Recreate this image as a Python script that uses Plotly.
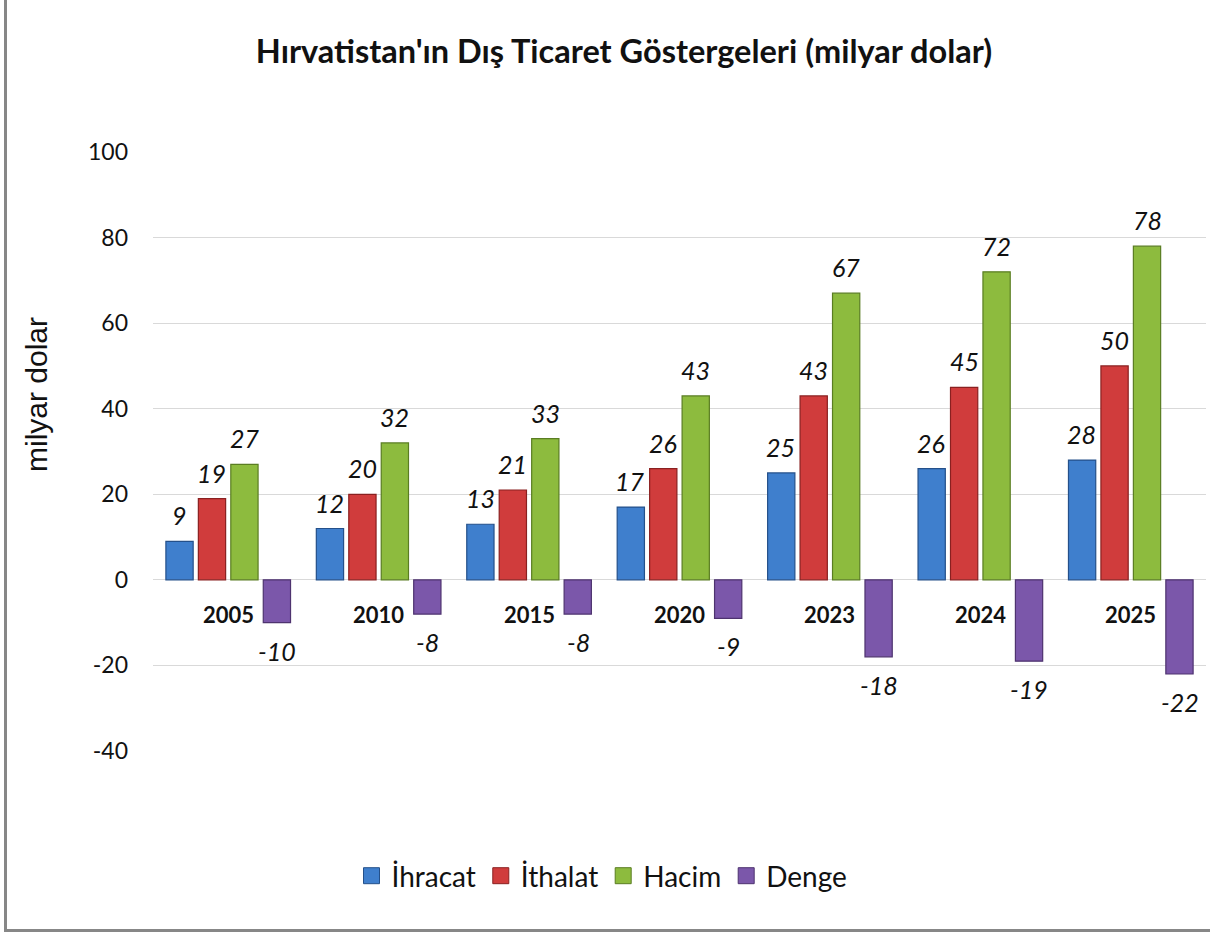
import plotly.graph_objects as go

years = ["2005", "2010", "2015", "2020", "2023", "2024", "2025"]
ihracat = [9, 12, 13, 17, 25, 26, 28]
ithalat = [19, 20, 21, 26, 43, 45, 50]
hacim = [27, 32, 33, 43, 67, 72, 78]
denge = [-10, -8, -8, -9, -18, -19, -22]
y_ticks = [-40, -20, 0, 20, 40, 60, 80, 100]
y_tick_labels = ["-40", "-20", "0", "20", "40", "60", "80", "100"]

series = [
    ("İhracat", ihracat, "#3f7fcd", "#24508a"),
    ("İthalat", ithalat, "#d03c3c", "#8a2020"),
    ("Hacim", hacim, "#8dbb3e", "#5a7d22"),
    ("Denge", denge, "#7b57aa", "#4e336f"),
]

FONT = "Lato"
W, H = 1210, 933
L, R, T, B = 153, 4, 152, 182
pw = W - L - R
ph = H - T - B


def ypaper(py):
    return (H - B - py) / ph


def xpaper(px):
    return (px - L) / pw


fig = go.Figure()
for i, (name, vals, col, line) in enumerate(series):
    fig.add_trace(go.Bar(
        x=years, y=vals, name=name, offsetgroup=str(i), showlegend=False,
        legendgroup=name, hoverinfo="skip",
        marker=dict(color=col, line=dict(color=line, width=1.2)),
    ))
# legend entries with larger square symbols
for i, (name, vals, col, line) in enumerate(series):
    fig.add_trace(go.Scatter(
        x=[None], y=[None], mode="markers", name=name, legendgroup=name,
        marker=dict(symbol="square", size=16, color=col, line=dict(color=line, width=1)),
    ))

n = len(series)
annotations = []
for i, (name, vals, col, line) in enumerate(series):
    for j, (yr, v) in enumerate(zip(years, vals)):
        annotations.append(dict(
            x=j, y=v, xref="x", yref="y", text=str(v), showarrow=False,
            font=dict(family=FONT, size=25, color="#111111", style="italic"),
            xshift=(i - (n - 1) / 2) * 32.7,
            yshift=26 if v >= 0 else -28,
            yanchor="middle",
        ))
for j, yr in enumerate(years):
    annotations.append(dict(
        x=j, y=0, xref="x", yref="y", text=f"<b>{yr}</b>", showarrow=False,
        font=dict(family=FONT, size=22, color="#111111"),
        yshift=-35, yanchor="middle",
    ))
annotations.append(dict(
    x=xpaper(36), y=ypaper(395), xref="paper", yref="paper", text="milyar dolar",
    showarrow=False, textangle=-90, xanchor="center", yanchor="middle",
    font=dict(family="Liberation Sans", size=30, color="#111111"),
))

shapes = [
    dict(type="line", xref="paper", yref="paper",
         x0=xpaper(5.5), x1=xpaper(5.5), y0=ypaper(930.5), y1=ypaper(0),
         line=dict(color="#878787", width=3)),
    dict(type="line", xref="paper", yref="paper",
         x0=xpaper(4), x1=xpaper(1210), y0=ypaper(930.5), y1=ypaper(930.5),
         line=dict(color="#878787", width=3)),
]

fig.update_layout(
    width=W, height=H,
    margin=dict(l=L, r=R, t=T, b=B),
    paper_bgcolor="white", plot_bgcolor="white",
    barmode="group", bargap=0.137, bargroupgap=0.16,
    font=dict(family=FONT, color="#111111"),
    title=dict(text="<b>Hırvatistan'ın Dış Ticaret Göstergeleri (milyar dolar)</b>",
               x=624 / W, xref="container", xanchor="center",
               y=1 - 52 / H, yref="container", yanchor="middle",
               font=dict(family=FONT, size=32.5, color="#111111")),
    xaxis=dict(showticklabels=False, showgrid=False, zeroline=False, showline=False,
               ticks="", range=[-0.5, 6.5]),
    yaxis=dict(range=[-40, 100], tickmode="array", tickvals=y_ticks, ticktext=y_tick_labels,
               showgrid=True, gridcolor="#d9d9d9",
               gridwidth=1.3, zeroline=True, zerolinecolor="#d9d9d9", zerolinewidth=1.3,
               showline=False, ticks="", ticklabelstandoff=24,
               tickfont=dict(family=FONT, size=23, color="#111111")),
    legend=dict(orientation="h", x=602 / W, xref="container", xanchor="center",
                y=1 - 876 / H, yref="container", yanchor="middle",
                font=dict(family=FONT, size=28, color="#111111"),
                itemwidth=30, traceorder="normal"),
    annotations=annotations,
    shapes=shapes,
)

fig.write_html("out.html", config={"displayModeBar": False},
               post_script="document.body.style.margin='0px';")
